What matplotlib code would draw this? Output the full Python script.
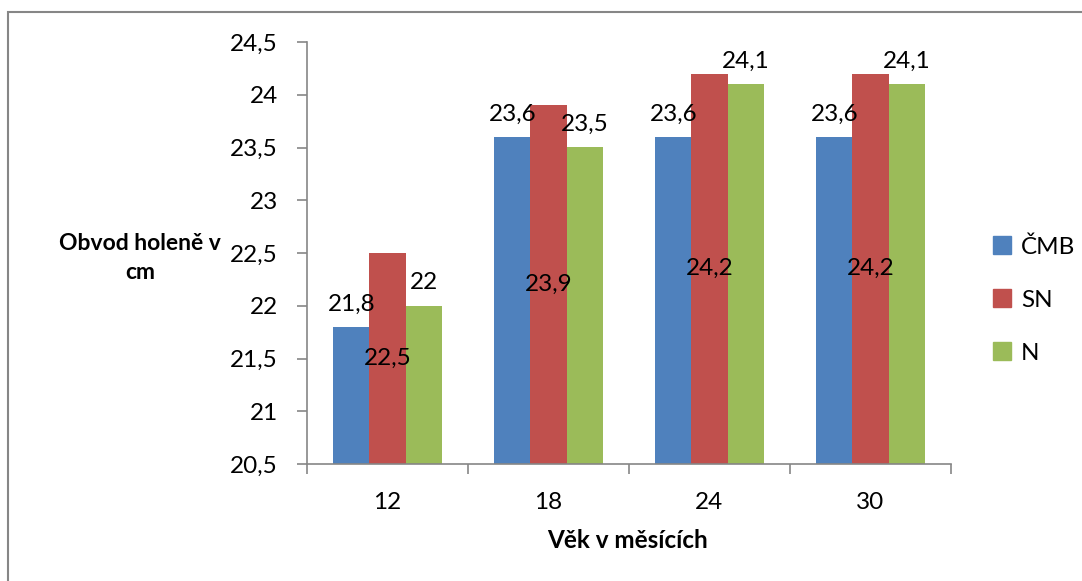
import numpy as np
import matplotlib
matplotlib.use("Agg")
import matplotlib.pyplot as plt
from matplotlib.patches import Rectangle, Patch

plt.rcParams["font.family"] = ["Lato", "DejaVu Sans"]
plt.rcParams["font.size"] = 17.5

# -----------------------------
#  Data
# -----------------------------
ages = ["12", "18", "24", "30"]
series = ["ČMB", "SN", "N"]
cmb = [21.8, 23.6, 23.6, 23.6]
sn = [22.5, 23.9, 24.2, 24.2]
n = [22.0, 23.5, 24.1, 24.1]
colors = ["#4F81BD", "#C0504D", "#9BBB59"]
yticks = [20.5, 21, 21.5, 22, 22.5, 23, 23.5, 24, 24.5]

def fmt(v):
    s = ("%.1f" % v).rstrip("0").rstrip(".")
    return s.replace(".", ",")

# -----------------------------
#  Plot
# -----------------------------
W, H = 1082, 581
fig = plt.figure(figsize=(W / 100, H / 100), dpi=100)
ax = fig.add_axes([307 / W, 1 - 464 / H, (951 - 307) / W, (464 - 42) / H])

grey = "#868686"
x = np.arange(len(ages))
bw = 0.224
base = 20.5
for i, (vals, c) in enumerate(zip([cmb, sn, n], colors)):
    pos = x + (i - 1) * bw
    ax.bar(pos, np.array(vals) - base, bw, bottom=base, color=c, label=series[i])
    for px, v in zip(pos, vals):
        if i == 1:
            # SN labels sit in the middle of the bar
            ax.text(px, (base + v) / 2, fmt(v), ha="center", va="center")
        else:
            ax.annotate(fmt(v), (px, v), xytext=(0, 9), textcoords="offset points",
                        ha="center", va="bottom")

ax.set_xlim(-0.5, 3.5)
ax.set_ylim(20.5, 24.5)
ax.set_yticks(yticks)
ax.set_yticklabels([fmt(t) for t in yticks])
ax.set_xticks(np.arange(-0.5, 4, 1))
ax.set_xticklabels([])
ax.set_xticks(x, minor=True)
ax.set_xticklabels(ages, minor=True)
ax.tick_params(axis="x", which="minor", length=0, pad=20)
ax.tick_params(axis="x", which="major", length=7, color=grey, width=1.2)
ax.tick_params(axis="y", length=7, color=grey, width=1.2, pad=14)

for side in ["top", "right"]:
    ax.spines[side].set_visible(False)
for side in ["left", "bottom"]:
    ax.spines[side].set_color(grey)
    ax.spines[side].set_linewidth(1.2)

fig.text(140 / W, 1 - 258 / H, "Obvod holeně v\ncm", ha="center", va="center",
         multialignment="center", fontweight="bold", fontsize=16.5, linespacing=1.45)
fig.text(628 / W, 1 - 540 / H, "Věk v měsících", ha="center", va="center",
         fontweight="bold", fontsize=17.5)

handles = [Patch(color=c) for c in colors]
fig.legend(handles, series, loc="center left", bbox_to_anchor=(971 / W, 1 - 300 / H),
           frameon=False, handlelength=0.75, handleheight=0.75, labelspacing=1.3,
           handletextpad=0.4, fontsize=17.5)

# chart border
fig.patches.append(Rectangle((8 / W, -0.05), 1.1, 1 - 12 / H + 0.05,
                             transform=fig.transFigure, fill=False,
                             edgecolor=grey, linewidth=1.5))

fig.savefig("out.png", dpi=100)
